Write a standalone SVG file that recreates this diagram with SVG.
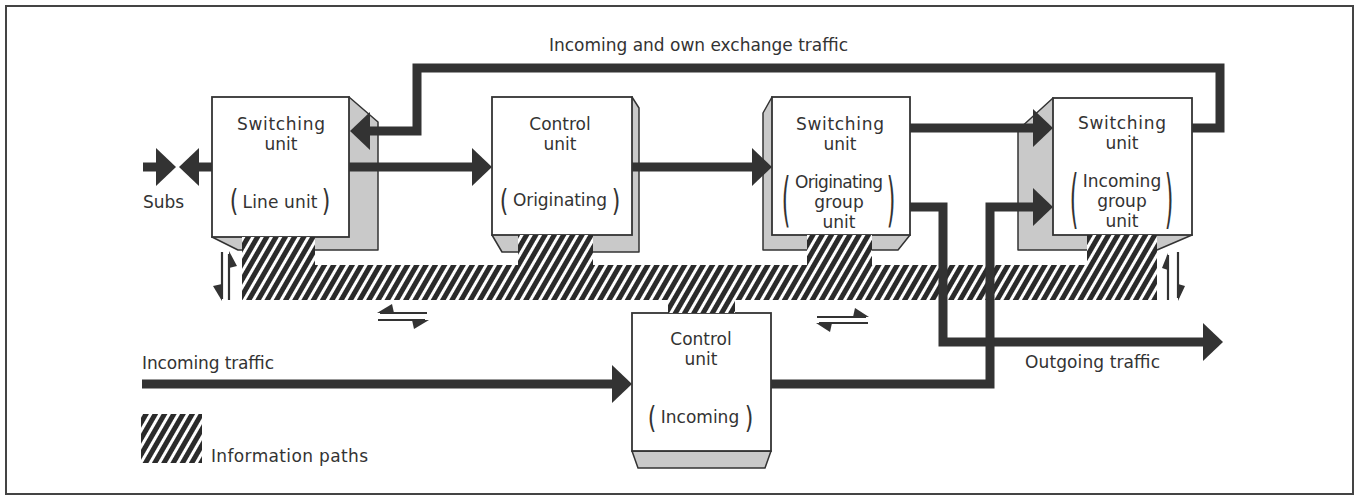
<svg xmlns="http://www.w3.org/2000/svg" width="1359" height="498" viewBox="0 0 1359 498">
<style>
.box{fill:#fff;stroke:#333;stroke-width:1.8}
.depth{fill:#c9c9c9;stroke:#333;stroke-width:1.5;stroke-linejoin:round}
.lbl{font-family:"DejaVu Sans","Liberation Sans",sans-serif;font-size:17px;fill:#333;text-anchor:middle}
.par{font-family:"DejaVu Sans","Liberation Sans",sans-serif;font-size:22px;fill:#333;text-anchor:middle}
.cap{font-family:"DejaVu Sans","Liberation Sans",sans-serif;font-size:17px;fill:#333}
.conn{fill:none;stroke:#333;stroke-width:9;stroke-linejoin:miter}
.thin{fill:none;stroke:#333;stroke-width:2.2}
.barb{fill:#333}
</style>
<defs>
<pattern id="hatch" width="8" height="8" patternUnits="userSpaceOnUse" patternTransform="rotate(30)">
<rect width="8" height="8" fill="#2b2b2b"/>
<rect x="0" y="0" width="3" height="8" fill="#fff"/>
</pattern>
<marker id="ah" viewBox="0 -19 20 38" refX="1" refY="0" markerWidth="20" markerHeight="38" markerUnits="userSpaceOnUse" orient="auto">
<path d="M0,-19 L20,0 L0,19 Z" fill="#333"/>
</marker>
</defs>
<rect x="0" y="0" width="1359" height="498" fill="#fff"/>
<rect x="6" y="6" width="1347" height="488" fill="none" stroke="#444" stroke-width="2"/>

<g id="node-switching-line">
<polygon class="depth" points="349,97 378,122 378,250 238,250 212,237"/>
<rect class="box" x="212" y="97" width="137" height="140"/>
<text class="lbl" x="281" y="130" textLength="88">Switching</text>
<text class="lbl" x="281" y="150">unit</text>
<text class="lbl" x="280" y="208" textLength="75">Line unit</text>
<text class="par" transform="translate(234,211) scale(1,1.38)">(</text>
<text class="par" transform="translate(326,211) scale(1,1.38)">)</text>
</g>

<g id="node-control-originating">
<polygon class="depth" points="632,97 639,108 639,252 502,252 492,235"/>
<rect class="box" x="492" y="97" width="140" height="138"/>
<text class="lbl" x="560" y="130">Control</text>
<text class="lbl" x="560" y="150">unit</text>
<text class="lbl" x="560" y="206" textLength="94">Originating</text>
<text class="par" transform="translate(504,211) scale(1,1.38)">(</text>
<text class="par" transform="translate(616,211) scale(1,1.38)">)</text>
</g>

<g id="node-switching-originating-group">
<polygon class="depth" points="772,97 763,113 763,250 898,250 910,235"/>
<rect class="box" x="772" y="97" width="138" height="138"/>
<text class="lbl" x="840" y="130" textLength="88">Switching</text>
<text class="lbl" x="840" y="150">unit</text>
<text class="lbl" x="839" y="188" textLength="88">Originating</text>
<text class="lbl" x="839" y="208">group</text>
<text class="lbl" x="839" y="228">unit</text>
<text class="par" transform="translate(786,220) scale(1,2.7)">(</text>
<text class="par" transform="translate(891,220) scale(1,2.7)">)</text>
</g>

<g id="node-switching-incoming-group">
<polygon class="depth" points="1053,98 1018,130 1018,250 1157,250 1192,235"/>
<rect class="box" x="1053" y="98" width="139" height="137"/>
<text class="lbl" x="1122" y="129" textLength="88">Switching</text>
<text class="lbl" x="1122" y="149">unit</text>
<text class="lbl" x="1122" y="187">Incoming</text>
<text class="lbl" x="1122" y="207">group</text>
<text class="lbl" x="1122" y="227">unit</text>
<text class="par" transform="translate(1074,221) scale(1,2.9)">(</text>
<text class="par" transform="translate(1169,221) scale(1,2.9)">)</text>
</g>

<g id="node-control-incoming">
<polygon class="depth" points="632,451 771,451 765,468 638,468"/>
<rect class="box" x="632" y="313" width="139" height="138"/>
<text class="lbl" x="701" y="345">Control</text>
<text class="lbl" x="701" y="365">unit</text>
<text class="lbl" x="700" y="423">Incoming</text>
<text class="par" transform="translate(652,428) scale(1,1.38)">(</text>
<text class="par" transform="translate(749,428) scale(1,1.38)">)</text>
</g>

<g id="information-paths">
<path d="M242,237 H315 V265 H518 V235 H593 V265 H807 V235 H872 V265 H1087 V235 H1157 V300 H735 V313 H668 V300 H242 Z" fill="url(#hatch)"/>
</g>

<g id="connectors">
<path class="conn" d="M143,167 H157" marker-end="url(#ah)"/>
<path class="conn" d="M212,167 H198" marker-end="url(#ah)"/>
<path class="conn" d="M349,167 H473" marker-end="url(#ah)"/>
<path class="conn" d="M632,167 H753" marker-end="url(#ah)"/>
<path class="conn" d="M910,128 H1034" marker-end="url(#ah)"/>
<path class="conn" d="M1192,128 H1220 V68 H417 V131 H369" marker-end="url(#ah)"/>
<path class="conn" d="M910,207 H943 V342 H1204" marker-end="url(#ah)"/>
<path class="conn" d="M771,384 H990 V207 H1034" marker-end="url(#ah)"/>
<path class="conn" d="M142,384 H613" marker-end="url(#ah)"/>
<path class="thin" d="M222,252 V299 M229,254 V300"/>
<polygon class="barb" points="222,301 213,286 222,284"/>
<polygon class="barb" points="229,251 237,266 229,268"/>
<path class="thin" d="M380,313 H427 M378,320 H425"/>
<polygon class="barb" points="377,313 392,304 394,313"/>
<polygon class="barb" points="429,320 414,329 412,320"/>
<path class="thin" d="M817,317 H866 M819,323 H868"/>
<polygon class="barb" points="869,317 855,308 853,317"/>
<polygon class="barb" points="816,323 830,332 832,323"/>
<path class="thin" d="M1168,255 V300 M1178,252 V298"/>
<polygon class="barb" points="1168,253 1162,268 1168,270"/>
<polygon class="barb" points="1178,301 1185,286 1178,284"/>
</g>

<g id="labels">
<text class="cap" x="549" y="51" textLength="299">Incoming and own exchange traffic</text>
<text class="cap" x="143" y="208">Subs</text>
<text class="cap" x="142" y="369" textLength="132">Incoming traffic</text>
<text class="cap" x="1025" y="368" textLength="135">Outgoing traffic</text>
</g>

<g id="legend">
<rect x="141" y="414" width="61" height="49" fill="url(#hatch)"/>
<text class="cap" x="211" y="462" textLength="157">Information  paths</text>
</g>
</svg>
